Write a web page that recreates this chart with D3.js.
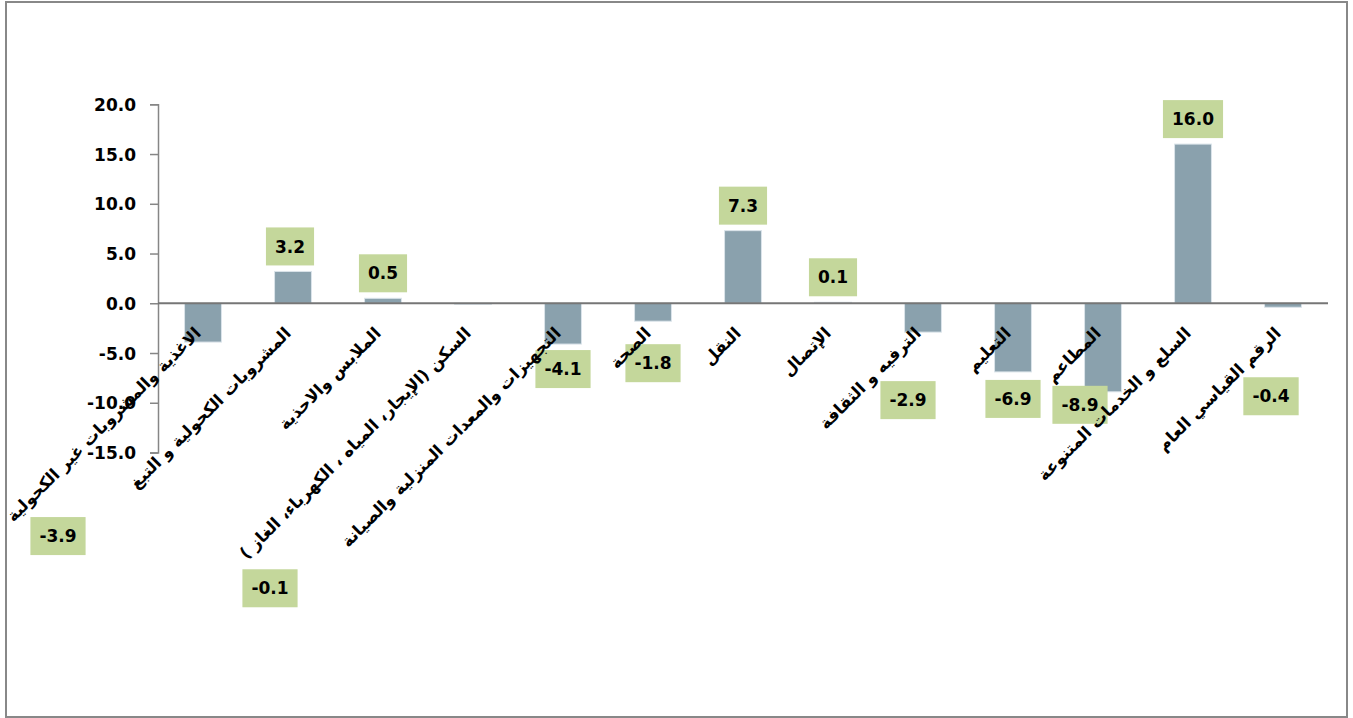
<!DOCTYPE html>
<html>
<head>
<meta charset="utf-8">
<script src="https://cdn.jsdelivr.net/npm/d3@7"></script>
<style>
  body { margin: 0; background: #fff; }
  svg { display: block; }
  .tick-label { font-family: "DejaVu Sans", sans-serif; font-weight: bold; font-size: 17px; fill: #000; }
  .cat-label { font-family: "DejaVu Sans", sans-serif; font-weight: bold; font-size: 16.5px; fill: #000; }
  .val-label { font-family: "DejaVu Sans", sans-serif; font-weight: bold; font-size: 17px; fill: #000; }
</style>
</head>
<body>
<svg id="chart" width="1353" height="718"></svg>
<script>
const categories = [
  'الاغذية والمشروبات غير الكحولية',
  'المشروبات الكحولية و التبغ',
  'الملابس والاحذية',
  'السكن (الإيجار، المياه ، الكهرباء، الغاز )',
  'التجهيزات والمعدات المنزلية والصيانة',
  'الصحة',
  'النقل',
  'الإتصال',
  'الترفيه و الثقافة',
  'التعليم',
  'المطاعم',
  'السلع و الخدمات المتنوعة',
  'الرقم القياسي العام'
];
const values = [-3.9, 3.2, 0.5, -0.1, -4.1, -1.8, 7.3, 0.1, -2.9, -6.9, -8.9, 16.0, -0.4];
const yTicks = [-15, -10, -5, 0, 5, 10, 15, 20];

// labels that were dragged away from their default place (px)
const labelNudge = [
  [-145, 169], [-3, 0], [0, 0], [-203, 259], [0, 0], [0, 17], [0, 0],
  [0, 0], [-15, 43], [0, 2], [-23, -12], [0, 0], [-12, 64]
];

const svg = d3.select('#chart');

// outer chart border
svg.append('rect')
  .attr('x', 6).attr('y', 2).attr('width', 1341).attr('height', 715)
  .attr('fill', 'none').attr('stroke', '#888').attr('stroke-width', 2);

const x = d3.scaleBand().domain(d3.range(categories.length)).range([158, 1328])
  .paddingInner(0.59).paddingOuter(0.295);
const y = d3.scaleLinear().domain([-15, 20]).range([452.5, 104.3]);

// bars
svg.append('g').selectAll('rect')
  .data(values)
  .join('rect')
  .attr('x', (d, i) => x(i))
  .attr('width', x.bandwidth())
  .attr('y', d => y(Math.max(0, d)))
  .attr('height', d => Math.abs(y(d) - y(0)))
  .attr('fill', '#8aa1ad')
  .attr('stroke', '#dbe4ea')
  .attr('stroke-width', 1);

const fmt = d => d.toFixed(1);

// y axis
const aY = d3.axisLeft(y).tickValues(yTicks).tickFormat(fmt).tickSize(8).tickPadding(14);
const gy = svg.append('g')
  .attr('transform', 'translate(158,0)')
  .call(aY);
gy.select('.domain').attr('stroke', '#868686').attr('stroke-width', 1.5);
gy.selectAll('.tick line').attr('stroke', '#868686').attr('stroke-width', 1.5);
gy.selectAll('.tick text').attr('class', 'tick-label').attr('dy', '0.36em');

// x axis at zero
svg.append('line')
  .attr('x1', 158).attr('x2', 1328)
  .attr('y1', y(0)).attr('y2', y(0))
  .attr('stroke', '#767676').attr('stroke-width', 2);

// value labels
const lab = svg.append('g').selectAll('g')
  .data(values)
  .join('g')
  .attr('transform', (d, i) => {
    const cx = x(i) + x.bandwidth() / 2 + labelNudge[i][0];
    const cy = y(d) + (d >= 0 ? -25 : 25) + labelNudge[i][1];
    return `translate(${cx},${cy})`;
  });

lab.append('text')
  .attr('class', 'val-label')
  .attr('text-anchor', 'middle')
  .attr('dy', '0.36em')
  .text(d => fmt(d));

lab.each(function () {
  const g = d3.select(this);
  const bb = g.select('text').node().getBBox();
  const w = bb.width + 18;
  g.insert('rect', 'text')
    .attr('x', -w / 2).attr('y', -19)
    .attr('width', w).attr('height', 38)
    .attr('fill', '#c4d79b');
});

// category labels, rotated (drawn on top of the value boxes)
svg.append('g').selectAll('text')
  .data(categories)
  .join('text')
  .attr('class', 'cat-label')
  .attr('text-anchor', 'end')
  .attr('transform', (d, i) => {
    const cx = x(i) + x.bandwidth() / 2 - 1;
    const cy = y(0) + 31;
    return `translate(${cx},${cy}) rotate(-45)`;
  })
  .text(d => d);
</script>
</body>
</html>
